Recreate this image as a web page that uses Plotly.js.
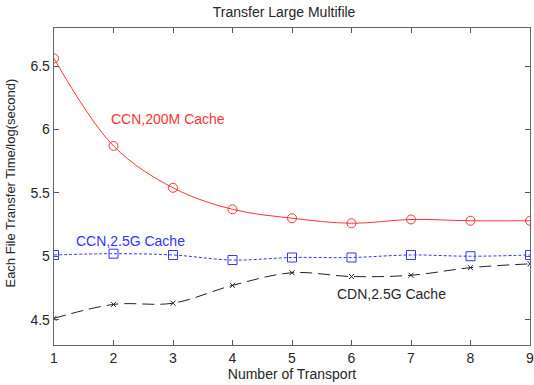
<!DOCTYPE html>
<html><head><meta charset="utf-8">
<script src="https://cdn.plot.ly/plotly-3.0.1.min.js"></script>
<style>body{margin:0;background:#fff}#c{width:534px;height:385px}</style>
</head><body><div id="c"></div>
<script>
const transports = [1,2,3,4,5,6,7,8,9];
const ccn200M = [6.56,5.87,5.54,5.37,5.30,5.26,5.29,5.28,5.28];
const ccn25G = [5.01,5.02,5.01,4.97,4.99,4.99,5.01,5.00,5.01];
const cdn25G = [4.51,4.62,4.63,4.77,4.87,4.84,4.85,4.91,4.94];
const labels = ["CCN,200M Cache","CCN,2.5G Cache","CDN,2.5G Cache"];
const yTicks = [4.5,5,5.5,6,6.5];
const yTickText = ["4.5","5","5.5","6","6.5"];

const font = {family:"Liberation Sans, Arial, sans-serif", size:14, color:"#262626"};
const traces = [
 {x:transports,y:ccn200M,mode:"lines+markers",line:{color:"#ff3333",width:1,shape:"spline"},
  marker:{symbol:"circle-open",size:9,color:"#ff3333",line:{width:1}},name:labels[0]},
 {x:transports,y:ccn25G,mode:"lines+markers",line:{color:"#3333ff",width:1,dash:"3px,2px",shape:"spline"},
  marker:{symbol:"square-open",size:9,color:"#3333ff",line:{width:1}},name:labels[1]},
 {x:transports,y:cdn25G,mode:"lines+markers",line:{color:"#222",width:1,dash:"12px,6px",shape:"spline"},
  marker:{symbol:"x-thin-open",size:5,color:"#222",line:{width:1,color:"#222"}},name:labels[2]}
];
const axisCommon = {showline:true,linecolor:"#666",linewidth:1.3,mirror:"ticks",ticks:"inside",ticklen:5,
  tickcolor:"#555",showgrid:false,zeroline:false,tickfont:font,ticklabeloverflow:"allow",automargin:false};
const layout = {
 width:534,height:385,margin:{l:54,r:4,t:28,b:40,autoexpand:false},showlegend:false,
 paper_bgcolor:"#fff",plot_bgcolor:"#fff",font:font,
 title:{text:"Transfer Large Multifile",font:font,x:0.532,xanchor:"center",y:0.968,yanchor:"middle"},
 xaxis:Object.assign({},axisCommon,{range:[1,9],tickvals:transports,
   title:{text:"Number of Transport",font:font,standoff:3}}),
 yaxis:Object.assign({},axisCommon,{range:[4.3,6.8],tickvals:yTicks,ticktext:yTickText}),
 annotations:[
  {xref:"paper",yref:"paper",x:-0.092,y:0.51,text:"Each File Transfer Time/log(second)",textangle:-90,
   showarrow:false,font:Object.assign({},font,{size:13}),xanchor:"center",yanchor:"middle"},
  {x:2.92,y:6.08,text:labels[0],showarrow:false,font:Object.assign({},font,{color:"#ff3333"}),xanchor:"center"},
  {x:2.29,y:5.12,text:labels[1],showarrow:false,font:Object.assign({},font,{color:"#3333ff"}),xanchor:"center"},
  {x:6.68,y:4.70,text:labels[2],showarrow:false,font:font,xanchor:"center"}
 ]
};
Plotly.newPlot("c",traces,layout,{displayModeBar:false,staticPlot:true});
</script></body></html>
